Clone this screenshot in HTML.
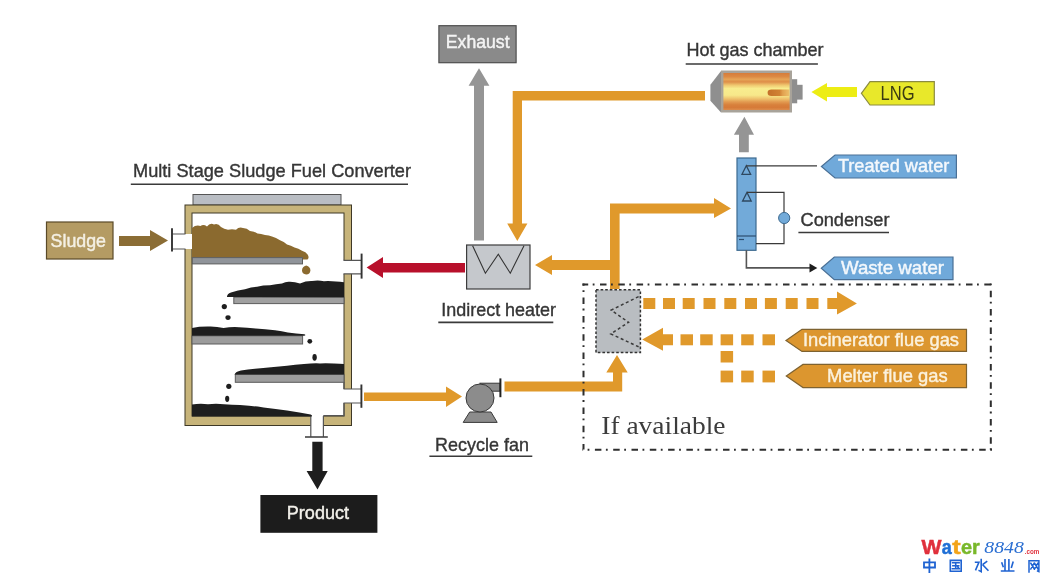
<!DOCTYPE html>
<html><head><meta charset="utf-8"><title>Multi Stage Sludge Fuel Converter</title>
<style>
html,body{margin:0;padding:0;background:#fff;width:1050px;height:583px;overflow:hidden}
svg{display:block;filter:blur(0.4px)}
svg{font-family:"Liberation Sans",sans-serif;font-size:19px}
.lbl{fill:#363636;stroke:#363636;stroke-width:0.4}
.ul{stroke:#3a3a3a;stroke-width:1.6}
.or{fill:#e0992b}
</style></head>
<body>
<svg width="1050" height="583" viewBox="0 0 1050 583">
<rect width="1050" height="583" fill="#fff"/>

<!-- ===== Title ===== -->
<text class="lbl" x="133" y="177.3" textLength="278" lengthAdjust="spacingAndGlyphs">Multi Stage Sludge Fuel Converter</text>
<line class="ul" x1="130.8" y1="184.2" x2="408" y2="184.2"/>

<!-- ===== Sludge box + arrow ===== -->
<rect x="46.5" y="222" width="66.5" height="37" fill="#b49b63" stroke="#5a4a28" stroke-width="1.2"/>
<text x="50.6" y="246.6" fill="#f4f0e4" textLength="55.4" lengthAdjust="spacingAndGlyphs" stroke="#f4f0e4" stroke-width="0.45">Sludge</text>
<polygon points="119,236 150,236 150,230 168,240.5 150,251 150,246 119,246" fill="#8b6d35"/>

<!-- ===== Converter ===== -->
<rect x="193" y="194.5" width="148" height="10.5" fill="#b9bdc3" stroke="#555" stroke-width="1"/>
<rect x="185" y="205" width="166.5" height="220.5" fill="#c7b47a" stroke="#3e3826" stroke-width="1"/>
<rect x="192" y="213" width="152" height="203" fill="#fff" stroke="#3e3826" stroke-width="1"/>
<!-- port cutouts -->
<rect x="183.5" y="234" width="10" height="15" fill="#fff"/>
<rect x="343" y="260.3" width="10" height="13.5" fill="#fff"/>
<rect x="343" y="389" width="10" height="14" fill="#fff"/>
<rect x="310.8" y="415" width="12.6" height="12" fill="#fff"/>
<!-- pipe lines -->
<g stroke="#555" stroke-width="1.2" fill="none">
<path d="M172,234 H185.5 M172,249 H185.5"/>
<path d="M343.5,260.3 H361 M343.5,273.8 H361"/>
<path d="M343.5,389 H361 M343.5,403 H361 M344,403 V415.7 H323.4 M344,389 V382"/>
<path d="M310.8,416 V437 M323.4,416 V437"/>
</g>
<g stroke="#333" stroke-width="1.9">
<line x1="172" y1="228.3" x2="172" y2="251.5"/>
<line x1="361.6" y1="253.6" x2="361.6" y2="278.6"/>
<line x1="361.4" y1="384.5" x2="361.4" y2="407.8"/>
</g>
<line x1="305" y1="437" x2="327.8" y2="437" stroke="#444" stroke-width="1.6"/>

<!-- sludge pile -->
<path d="M192,257.5 L192,228 Q196,224.5 200.5,226 Q203.5,224 207,226.5 Q210,222.5 214,224.5 Q218,223 221,227 Q224,229 228,229.8 Q232,228.8 236,229.8 Q239,226.5 243,228 Q247,228 250,231 Q254,231 257.5,233.5 Q261,233.5 265,235 Q269,235 272,236.5 Q276,237.5 280,240.2 Q284,241.5 287,244.5 Q291,245.5 294.5,247.6 Q298.5,248.5 302,250.8 Q306,252 307.6,254.5 Q309.6,257.5 307.5,259.6 L303,259.6 L303,257.5 Z" fill="#8b6a2f"/>
<path d="M306.2,265.6 Q310.5,267 310.4,270.4 Q310,274.3 306.2,274.4 Q302,274.2 302,270.2 Q302.2,266.6 306.2,265.6 Z" fill="#8b6a2f"/>
<!-- shelves -->
<g stroke="#5c5c5c" stroke-width="1">
<rect x="192.3" y="257.6" width="110.2" height="6.3" fill="#90949a"/>
<rect x="233.8" y="297.2" width="110.2" height="6.4" fill="#a0a0a0"/>
<rect x="192" y="335.8" width="110.6" height="8.2" fill="#9c9c9c"/>
<rect x="235.3" y="374.4" width="108.7" height="7.9" fill="#9c9c9c"/>
</g>
<!-- black piles -->
<g fill="#1e1e1e">
<path d="M227,297 Q226.8,294 231,292.5 Q238,290 245,289.2 Q251,287 257,286.7 Q263,285.3 270,285.3 Q276,284 282,283.6 Q286,281.3 290,281.8 Q295,282.2 300,283.4 Q306,280.8 312,281 Q318,279.8 324,281.2 Q330,280.8 336,281.6 Q340,281.8 344,282.2 L344,297.2 Z"/>
<path d="M192,335.8 L192,328 Q200,326.3 210.7,326.6 Q217,326.8 223.6,327.9 Q231,326.8 239,327.2 Q247,327.6 255.7,328.5 Q265,329 275,330.2 Q282,331 287.8,332.4 Q296,333.4 304.5,334.3 Q306.5,335.2 304,335.8 Z"/>
<path d="M234.5,374.6 Q235.5,371.5 241,370.5 Q247.9,369.4 255,368.8 Q263.6,367.8 271,367.2 Q279.3,366.3 287,365.7 Q295,364.7 304,364 Q313.9,363 320,363.4 Q326.4,362.9 334,363.6 Q340,363.8 344,364.1 L344,374.6 Z"/>
<path d="M192,416.5 L192,404.4 Q200,403.4 208,404.2 Q216,403.4 224,404.2 Q232,404.6 240,405 Q252,406 263.6,407.4 Q276,408.8 287,410.5 Q300,412.4 310.7,414.4 Q313,415.5 311.5,416.5 Z"/>
<circle cx="224.3" cy="306.6" r="2.6"/>
<ellipse cx="228" cy="317.6" rx="2.6" ry="2.4"/>
<circle cx="309.8" cy="341.3" r="2.4"/>
<ellipse cx="314.6" cy="357.3" rx="2.2" ry="3.4"/>
<circle cx="228.8" cy="386.3" r="2.6"/>
<ellipse cx="227.2" cy="398.8" rx="2.1" ry="3.1"/>
</g>

<!-- product arrow + box -->
<polygon points="312.3,441.7 322.6,441.7 322.6,471 327.7,471 317.5,489.4 306.6,471 312.3,471" fill="#1e1e1e"/>
<rect x="260.4" y="495" width="117" height="37.8" fill="#1c1c1c"/>
<text x="286.8" y="518.7" fill="#f2f0ea" textLength="62.2" lengthAdjust="spacingAndGlyphs" stroke="#f2f0ea" stroke-width="0.45">Product</text>

<!-- red arrow -->
<polygon points="366.6,267.6 383,257.1 383,262.9 465,262.9 465,272.6 383,272.6 383,277.9" fill="#b8102b"/>

<!-- ===== Indirect heater ===== -->
<rect x="466.6" y="245" width="63.4" height="44" fill="#c5c8cc" stroke="#3c3c3c" stroke-width="1.2"/>
<polyline points="472.6,245.7 485.4,273.2 498.3,254.3 510.3,273.2 524,245.7" fill="none" stroke="#333" stroke-width="1.1"/>
<text class="lbl" x="441.3" y="315.8" textLength="114.7" lengthAdjust="spacingAndGlyphs">Indirect heater</text>
<line class="ul" x1="438.3" y1="322.4" x2="553.3" y2="322.4"/>

<!-- gray exhaust arrow -->
<polygon points="474,240.6 474,85.7 468.6,85.7 479,68.2 489.4,85.7 484,85.7 484,240.6" fill="#959595"/>
<rect x="438.9" y="25.7" width="77.2" height="37" fill="#8a8a8a" stroke="#4e4e4e" stroke-width="1.2"/>
<text x="445.8" y="47.9" fill="#f4f4f4" textLength="63.8" lengthAdjust="spacingAndGlyphs" stroke="#f4f4f4" stroke-width="0.45">Exhaust</text>

<!-- orange: chamber -> heater -->
<path class="or" d="M705,91 H512.7 V223.4 H507.2 L517.3,241 L527.4,223.4 H522 V100.5 H705 Z"/>
<!-- orange: exchanger -> condenser & heater -->
<path class="or" d="M610,289 V270 H552 V275 L535,265 L552,255 V260 H610 V203.6 H714 V198 L731,208.6 L714,218 V213.6 H619.6 V289 Z"/>
<!-- orange: converter -> fan -->
<path class="or" d="M364,392.4 H446 V386.4 L462,396.6 L446,407 V401 H364 Z"/>
<!-- orange: fan -> exchanger -->
<path class="or" d="M504.5,381.4 H613 V372.6 H606.3 L617,355 L627.7,372.6 H622.2 V391.4 H504.5 Z"/>

<!-- recycle fan -->
<g fill="#8c8c8c" stroke="#3a3a3a" stroke-width="1">
<polygon points="469.7,412 491,412 497.2,422.4 463.2,422.4"/>
<rect x="480" y="383.2" width="20" height="8"/>
<circle cx="480" cy="398" r="14"/>
</g>
<line x1="500.4" y1="378.4" x2="500.4" y2="397.2" stroke="#222" stroke-width="2"/>
<text class="lbl" x="435.1" y="451.2" textLength="93.8" lengthAdjust="spacingAndGlyphs">Recycle fan</text>
<line class="ul" x1="429.4" y1="456.2" x2="532.3" y2="456.2"/>

<!-- ===== Hot gas chamber ===== -->
<text class="lbl" x="686.4" y="56.1" textLength="137.2" lengthAdjust="spacingAndGlyphs">Hot gas chamber</text>
<line class="ul" x1="685.7" y1="64" x2="817.9" y2="64"/>
<defs>
<linearGradient id="hg" x1="0" y1="0" x2="0" y2="1">
<stop offset="0" stop-color="#d67c3a"/>
<stop offset="0.1" stop-color="#dc8a44"/>
<stop offset="0.17" stop-color="#e6a456"/>
<stop offset="0.24" stop-color="#de8e48"/>
<stop offset="0.33" stop-color="#f0c870"/>
<stop offset="0.42" stop-color="#f8ec8e"/>
<stop offset="0.6" stop-color="#f7e88a"/>
<stop offset="0.7" stop-color="#eec06c"/>
<stop offset="0.78" stop-color="#e29a50"/>
<stop offset="0.86" stop-color="#d8803c"/>
<stop offset="0.93" stop-color="#d67a38"/>
<stop offset="1" stop-color="#dc8c4c"/>
</linearGradient>
<linearGradient id="fl2" x1="0" y1="0" x2="1" y2="0">
<stop offset="0" stop-color="#c4702a"/>
<stop offset="0.55" stop-color="#d08234"/>
<stop offset="0.7" stop-color="#e2a250"/>
<stop offset="1" stop-color="#ecbf6a"/>
</linearGradient>
</defs>
<polygon points="721,71 710.4,84.8 710.4,100.8 721,112.5" fill="#8f8f8f"/>
<rect x="721" y="70.5" width="71" height="42" fill="#a8a39a"/>
<rect x="723.4" y="73" width="66.2" height="37" fill="url(#hg)"/>
<path d="M771.5,89.4 H789.3 V96 H771.5 Q767.6,96 767.6,92.7 Q767.6,89.4 771.5,89.4 Z" fill="url(#fl2)"/>
<rect x="792" y="79.2" width="5.2" height="24.1" fill="#8e8e8e"/>
<rect x="797" y="84.8" width="5.6" height="14.8" fill="#8e8e8e"/>

<!-- yellow LNG arrow + tag -->
<polygon points="811.4,92 827,82.9 827,87 857,87 857,97 827,97 827,101.4" fill="#eded14"/>
<polygon points="861.4,93.3 870,81.7 934.3,81.7 934.3,105 870,105" fill="#e8e82a" stroke="#8b8b40" stroke-width="1.2"/>
<text x="880.6" y="99.5" fill="#3a3a12" font-size="20.5" textLength="34" lengthAdjust="spacingAndGlyphs">LNG</text>

<!-- gray arrow condenser -> chamber -->
<polygon points="739,152.2 739,134.7 733.9,134.7 744.4,116.7 754,134.7 748.8,134.7 748.8,152.2" fill="#959595"/>

<!-- ===== Condenser ===== -->
<rect x="737" y="158" width="19" height="92.3" fill="#72aad9" stroke="#3d6a90" stroke-width="1.2"/>
<line x1="737" y1="236" x2="756" y2="236" stroke="#2e4e6e" stroke-width="1.2"/>
<line x1="739" y1="239.5" x2="744" y2="239.5" stroke="#2e4e6e" stroke-width="1.2"/>
<g fill="none" stroke="#2e4860" stroke-width="1.3">
<path d="M746.3,165.8 L742,174.3 H750.6 Z"/>
<path d="M747,192.4 L742.6,201 H751.2 Z"/>
</g>
<g fill="none" stroke="#3a3a3a" stroke-width="1.2">
<path d="M746.3,165.8 H817"/>
<path d="M747,192.4 H784 V243.6 H756"/>
<path d="M746.4,250.3 V267.9 H812" stroke="#555" stroke-width="1.6"/>
</g>
<circle cx="784.2" cy="218" r="5.6" fill="#72aad9" stroke="#3d6a90" stroke-width="1"/>
<polygon points="809.5,263.6 817.3,267.9 809.5,272.4" fill="#1e1e1e"/>

<polygon points="821.4,166.5 835,155 956.4,155 956.4,178 835,178" fill="#70a9da" stroke="#4a7096" stroke-width="1.2"/>
<text x="837.9" y="172.1" fill="#f4f8fc" textLength="111.4" lengthAdjust="spacingAndGlyphs" stroke="#f4f8fc" stroke-width="0.45">Treated water</text>
<text class="lbl" x="800.5" y="225.7" textLength="89" lengthAdjust="spacingAndGlyphs">Condenser</text>
<line class="ul" x1="798.4" y1="232.5" x2="889" y2="232.5"/>
<polygon points="821.3,268.3 834.3,257 953,257 953,279.7 834.3,279.7" fill="#70a9da" stroke="#4a7096" stroke-width="1.2"/>
<text x="841" y="274" fill="#f4f8fc" textLength="103" lengthAdjust="spacingAndGlyphs" stroke="#f4f8fc" stroke-width="0.45">Waste water</text>

<!-- ===== If available box ===== -->
<g fill="none" stroke="#2e2e2e" stroke-width="2" stroke-dasharray="6.5 4.5 1.8 5.5">
<line x1="582.5" y1="284.5" x2="992" y2="284.5" stroke-dashoffset="0.8"/>
<line x1="583.5" y1="283.5" x2="583.5" y2="449.5" stroke-dashoffset="4.2"/>
<line x1="582.5" y1="449.8" x2="992" y2="449.8" stroke-dashoffset="5.9"/>
<line x1="990.8" y1="283.5" x2="990.8" y2="449.8" stroke-dashoffset="11"/>
</g>
<rect x="596" y="289.8" width="44.4" height="62.8" fill="#b9bdc1" stroke="#333" stroke-width="1.5" stroke-dasharray="2.6 2"/>
<polyline points="638.6,296.6 611.2,310.1 628.6,322.3 610.8,333.9 638.6,346.8" fill="none" stroke="#3a3a3a" stroke-width="1.5" stroke-dasharray="3 2.6"/>

<g class="or">
<rect x="643.3" y="298" width="12" height="11"/>
<rect x="663" y="298" width="12" height="11"/>
<rect x="682.7" y="298" width="12" height="11"/>
<rect x="703.5" y="298" width="12" height="11"/>
<rect x="724.3" y="298" width="12" height="11"/>
<rect x="745" y="298" width="12" height="11"/>
<rect x="764.9" y="298" width="12" height="11"/>
<rect x="785.7" y="298" width="12" height="11"/>
<rect x="806.5" y="298" width="12" height="11"/>
<polygon points="827.3,298 837,298 837,291.6 856.9,303.4 837,314.6 837,309 827.3,309"/>
<polygon points="642.2,339.6 663,327.7 663,334.3 673,334.3 673,345.2 663,345.2 663,350.7"/>
<rect x="680.5" y="334.3" width="12.5" height="11"/>
<rect x="700.2" y="334.3" width="12.5" height="11"/>
<rect x="720.6" y="334.3" width="12.5" height="11"/>
<rect x="741.2" y="334.3" width="12.5" height="11"/>
<rect x="762.5" y="334.3" width="12.5" height="11"/>
<rect x="720.6" y="351" width="12.5" height="11.5"/>
<rect x="720.6" y="370.6" width="12.5" height="11.8"/>
<rect x="741.2" y="370.6" width="12.5" height="11.8"/>
<rect x="762.5" y="370.6" width="12.5" height="11.8"/>
</g>
<polygon points="786,340.4 802,329.3 966.5,329.3 966.5,351.4 802,351.4" fill="#dc962f" stroke="#7e6230" stroke-width="1.2"/>
<text x="803" y="345.6" fill="#fbf1dc" textLength="156" lengthAdjust="spacingAndGlyphs" stroke="#fbf1dc" stroke-width="0.45">Incinerator flue gas</text>
<polygon points="786.3,376 803,364.4 966.5,364.4 966.5,387.6 803,387.6" fill="#dc962f" stroke="#7e6230" stroke-width="1.2"/>
<text x="827.1" y="381.8" fill="#fbf1dc" textLength="120.5" lengthAdjust="spacingAndGlyphs" stroke="#fbf1dc" stroke-width="0.45">Melter flue gas</text>
<text x="601.3" y="434.3" fill="#3c3c3c" style="font-family:'Liberation Serif',serif;font-size:26px" textLength="124.2" lengthAdjust="spacingAndGlyphs">If available</text>

<!-- ===== Watermark ===== -->
<g font-weight="bold" font-size="20.5" stroke-width="0.5">
<text x="921.6" y="553.6" fill="#e0303c" stroke="#e0303c" textLength="20" lengthAdjust="spacingAndGlyphs">W</text>
<text x="941.8" y="553.6" fill="#1f6fd6" stroke="#1f6fd6" textLength="10" lengthAdjust="spacingAndGlyphs">a</text>
<text x="952.2" y="553.6" fill="#f3a41a" stroke="#f3a41a" textLength="8.4" lengthAdjust="spacingAndGlyphs">t</text>
<text x="961" y="553.6" fill="#79b82a" stroke="#79b82a" textLength="18.8" lengthAdjust="spacingAndGlyphs">er</text>
</g>
<text x="984.3" y="553" fill="#2b6fd2" style="font-family:'Liberation Serif',serif;font-style:italic;font-size:17.5px" textLength="39.5" lengthAdjust="spacingAndGlyphs">8848</text>
<text x="1024.8" y="554.2" fill="#e0303c" font-size="7.5" font-weight="bold" textLength="14.6" lengthAdjust="spacingAndGlyphs">.com</text>
<g stroke="#1f63d2" stroke-width="1.6" fill="none" stroke-linecap="square" stroke-linejoin="miter">
<!-- 中 -->
<path d="M924,562.4 H935 V567.5 H924 Z M929.4,559.4 V572.2" stroke-width="1.8"/>
<!-- 国 -->
<path d="M950.3,560.4 H961.2 V571.2 H950.3 Z M952.6,562.7 H959.1 M952.9,565.7 H958.7 M952.4,568.7 H959.3 M955.7,562.7 V568.7 M957.8,567 L958.4,567.6"/>
<!-- 水 -->
<path d="M981.2,559.6 V571.6 L979.2,570.6 M975.6,562.3 H978.9 L975.8,569.6 M983.2,564.2 L986.6,561.6 M983.2,565.2 L987.9,570.2"/>
<!-- 业 -->
<path d="M1005,559.8 V570.4 M1008.9,559.8 V570.4 M1001.9,563 L1003.1,566.6 M1013,562.3 L1011.5,567.3 M1001.6,571 H1013.7"/>
<!-- 网 -->
<path d="M1029,572 V560.8 H1038.9 V571.6 L1037.6,571 M1030.8,563.2 L1034.3,569 M1034.1,563.2 L1030.8,569 M1034.6,563.2 L1038,569 M1037.8,563.2 L1034.6,569" stroke-width="1.5"/>
</g>
</svg>
</body></html>
